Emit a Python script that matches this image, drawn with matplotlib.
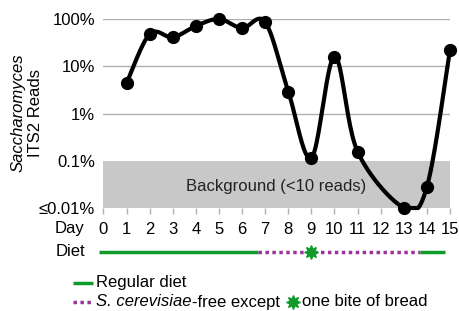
import numpy as np
import matplotlib
matplotlib.use("Agg")
import matplotlib.pyplot as plt
from matplotlib.lines import Line2D

plt.rcParams['font.family'] = ['Liberation Sans', 'DejaVu Sans']

# ---- data ----
days = [1, 2, 3, 4, 5, 6, 7, 8, 9, 10, 11, 13, 14, 15]
reads_pct = [4.4, 48, 41, 71, 100, 64, 86, 2.9, 0.115, 16, 0.155, 0.0101, 0.028, 22]
day_ticks = list(range(0, 16))
y_ticks = [0.01, 0.1, 1, 10, 100]
y_tick_labels = ['≤0.01%', '0.1%', '1%', '10%', '100%']
background_limit = 0.1
regular_1 = (-0.2, 6.7)
free_period = (6.7, 13.7)
regular_2 = (13.7, 14.8)
bread_day = 9

GREEN = '#119a2a'
PURPLE = '#993399'
FS = 12

fig = plt.figure(figsize=(4.6, 3.11), dpi=100)
L, R = 103.5 / 460, 450 / 460
T, B = 19 / 311, 208 / 311
ax = fig.add_axes([L, 1 - B, R - L, B - T])

# smooth curve (Excel-like Bezier smoothing in log space)
xs = np.array(days, float)
ys = np.log10(np.array(reads_pct, float))
P = np.column_stack([xs, ys])
Pext = np.vstack([P[0], P, P[-1]])
t = np.linspace(0, 1, 40)[:, None]
curve = []
for i in range(len(P) - 1):
    p0, p1, p2, p3 = Pext[i], Pext[i + 1], Pext[i + 2], Pext[i + 3]
    c1 = p1 + (p2 - p0) / 6
    c2 = p2 - (p3 - p1) / 6
    seg = (1 - t) ** 3 * p1 + 3 * (1 - t) ** 2 * t * c1 + 3 * (1 - t) * t ** 2 * c2 + t ** 3 * p2
    curve.append(seg)
curve = np.vstack(curve)
curve[:, 1] = np.maximum(curve[:, 1], -2.0)

ax.set_yscale('log')
ax.set_xlim(0, 15)
ax.set_ylim(0.01, 100)
ax.axhspan(0.01, background_limit, color='#c8c8c8', zorder=0, lw=0)
for yv in y_ticks[2:]:
    ax.axhline(yv, color='#b0b0b0', lw=1.0, zorder=1)
ax.plot(curve[:, 0], 10 ** curve[:, 1], color='black', lw=3.0, zorder=3, clip_on=False)
ax.plot(days, reads_pct, 'o', color='black', ms=8.5, zorder=4, clip_on=False)
ax.text(7.47, 0.029, 'Background (<10 reads)', ha='center', va='center', fontsize=FS, color='#222222')

for s in ax.spines.values():
    s.set_visible(False)
ax.set_xticks(day_ticks)
ax.set_xticklabels([str(d) for d in day_ticks])
ax.set_yticks(y_ticks)
ax.set_yticklabels(y_tick_labels)
ax.yaxis.set_minor_locator(matplotlib.ticker.NullLocator())
ax.tick_params(axis='y', length=0, pad=6, labelsize=FS)
ax.tick_params(axis='x', length=4, width=1, color='#b0b0b0', pad=6, labelsize=FS)

fig.text(70 / 460, 1 - 229 / 311, 'Day', ha='center', va='center', fontsize=FS)
fig.text(70 / 460, 1 - 252 / 311, 'Diet', ha='center', va='center', fontsize=FS)

fig.text(18 / 460, 1 - 113 / 311, 'Saccharomyces', rotation=90, ha='center', va='center',
         fontsize=FS, style='italic')
fig.text(36 / 460, 1 - 113 / 311, 'ITS2 Reads', rotation=90, ha='center', va='center', fontsize=FS)

# diet bar axis sharing x
dax = fig.add_axes([L, 1 - 260 / 311, R - L, 16 / 311], sharex=ax)
dax.set_ylim(0, 1)
dax.axis('off')
dax.plot(regular_1, [0.5, 0.5], color=GREEN, lw=2.5, clip_on=False, solid_capstyle='butt')
dax.plot(free_period, [0.5, 0.5], color=PURPLE, lw=2.5, ls=(0, (1, 1)), clip_on=False)
dax.plot(regular_2, [0.5, 0.5], color=GREEN, lw=2.5, clip_on=False, solid_capstyle='butt')
dax.plot([bread_day], [0.5], marker=(8, 1, 0), color=GREEN, ms=10, clip_on=False, zorder=5)

# legend
fy1 = 1 - 283 / 311
fy2 = 1 - 302 / 311
fig.add_artist(Line2D([73 / 460, 93 / 460], [fy1, fy1], color=GREEN, lw=2.5, solid_capstyle='butt'))
fig.add_artist(Line2D([73 / 460, 93 / 460], [fy2, fy2], color=PURPLE, lw=2.5, ls=(0, (1, 1))))
fig.text(96 / 460, fy1, 'Regular diet', ha='left', va='center', fontsize=FS)
renderer = fig.canvas.get_renderer()
t1 = fig.text(96 / 460, fy2, 'S. cerevisiae', ha='left', va='center', fontsize=FS, style='italic')
bb = t1.get_window_extent(renderer)
t2 = fig.text(bb.x1 / fig.bbox.width, fy2, '-free except', ha='left', va='center', fontsize=FS)
bb2 = t2.get_window_extent(renderer)
sx = bb2.x1 + 13
fig.add_artist(Line2D([sx / fig.bbox.width], [fy2], marker=(8, 1, 0), color=GREEN, ms=10))
fig.text((sx + 10) / fig.bbox.width, fy2, 'one bite of bread', ha='left', va='center', fontsize=FS)

fig.savefig('out.png', dpi=100)
